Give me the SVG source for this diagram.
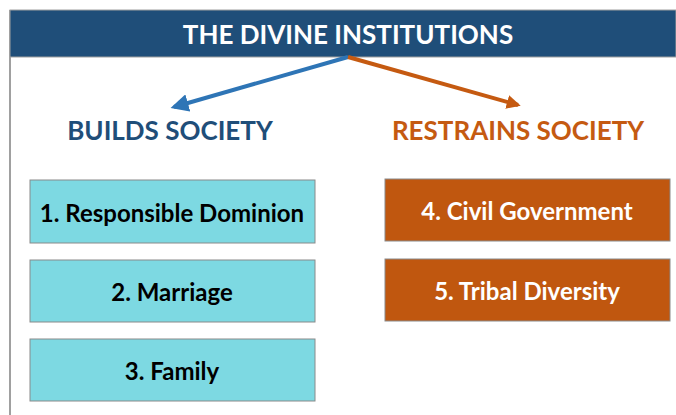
<svg xmlns="http://www.w3.org/2000/svg" width="676" height="415" viewBox="0 0 676 415">
<style>
text{font-family:Lato,"Open Sans","Liberation Sans",sans-serif;font-weight:bold;text-anchor:middle;dominant-baseline:central}
.lb{fill:#7DD9E2;stroke:#8a8a8a;stroke-width:1}
.rb{fill:#C0570F;stroke:#8a8a8a;stroke-width:1}
.lt{fill:#000;font-size:24px}
.rt{fill:#fff;font-size:24px}
</style>
<defs>
<marker id="ab" viewBox="0 0 10 10" refX="8" refY="5" markerWidth="4.5" markerHeight="4.5" orient="auto"><path d="M0,0 L10,5 L0,10 z" fill="#2E75B6"/></marker>
<marker id="ao" viewBox="0 0 10 10" refX="8" refY="5" markerWidth="3.5" markerHeight="3.5" orient="auto"><path d="M0,0 L10,5 L0,10 z" fill="#C55A11"/></marker>
</defs>
<rect x="0" y="0" width="676" height="415" fill="#fff"/>
<g id="frame">
<line x1="10" y1="10" x2="10" y2="415" stroke="#a0a0a0" stroke-width="2"/>
</g>
<g id="header">
<rect x="10" y="10" width="666" height="47" fill="#1F4E79" stroke="#a0a0a0" stroke-width="1"/>
<text x="348" y="34" fill="#fff" font-size="26">THE DIVINE INSTITUTIONS</text>
</g>
<g id="connectors">
<line x1="348" y1="57" x2="174" y2="107" stroke="#2E75B6" stroke-width="4" marker-end="url(#ab)"/>
<line x1="348" y1="57" x2="518" y2="105" stroke="#C55A11" stroke-width="4" marker-end="url(#ao)"/>
</g>
<g id="builds"><text x="170" y="130" fill="#1F4E79" font-size="26">BUILDS SOCIETY</text></g>
<g id="restrains"><text x="518" y="130" fill="#C55A11" font-size="26">RESTRAINS SOCIETY</text></g>
<g id="n1"><rect class="lb" x="30" y="180" width="285" height="63"/><text class="lt" x="172" y="212">1. Responsible Dominion</text></g>
<g id="n2"><rect class="lb" x="30" y="260" width="285" height="62"/><text class="lt" x="172" y="291">2. Marriage</text></g>
<g id="n3"><rect class="lb" x="30" y="339" width="285" height="62"/><text class="lt" x="172" y="370">3. Family</text></g>
<g id="n4"><rect class="rb" x="385" y="179" width="285" height="62"/><text class="rt" x="527" y="210">4. Civil Government</text></g>
<g id="n5"><rect class="rb" x="385" y="259" width="285" height="62"/><text class="rt" x="527" y="290">5. Tribal Diversity</text></g>
</svg>
